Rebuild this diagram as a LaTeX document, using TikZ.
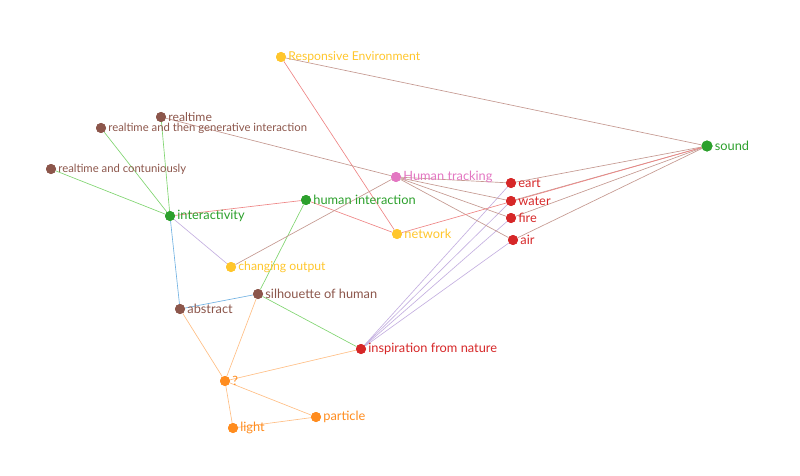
\documentclass[tikz,border=0pt]{standalone}
\usepackage{fontspec}
\setmainfont{Lato}
\definecolor{cbrown}{HTML}{8C564B}
\definecolor{cgreen}{HTML}{2CA02C}
\definecolor{cred}{HTML}{D62728}
\definecolor{corange}{HTML}{FF8C1E}
\definecolor{cpink}{HTML}{E377C2}
\definecolor{cyellow}{HTML}{FFC62C}
\definecolor{egreen}{HTML}{7FD46F}
\definecolor{ered}{HTML}{EE8585}
\definecolor{ebrown}{HTML}{C49890}
\definecolor{elav}{HTML}{C4B0E0}
\definecolor{eblue}{HTML}{72B2E2}
\definecolor{eorange}{HTML}{FFBE84}
\tikzset{
  dot/.style={circle, fill=#1, inner sep=0pt, minimum size=10pt},
  lbl/.style={anchor=west, inner sep=0pt, text=#1, font=\fontsize{12.8}{14}\selectfont},
  small/.style={font=\fontsize{11.3}{13}\selectfont},
  mid/.style={font=\fontsize{12.2}{14}\selectfont},
  edge/.style={draw=#1, line width=0.65pt},
}
\begin{document}
\begin{tikzpicture}[x=1pt,y=-1pt]
\useasboundingbox (0,0) rectangle (800,476);
% nodes (dots)
\node[dot=cyellow] (re) at (281,57) {};
\node[dot=cbrown] (rt) at (161,117) {};
\node[dot=cbrown] (rtg) at (101,128) {};
\node[dot=cbrown] (rtc) at (51,169) {};
\node[dot=cgreen] (int) at (170,216) {};
\node[dot=cgreen] (hi) at (306,200) {};
\node[dot=cpink] (ht) at (396,177) {};
\node[dot=cred] (ea) at (511,183) {};
\node[dot=cred] (wa) at (511,201) {};
\node[dot=cred] (fi) at (511,218) {};
\node[dot=cred] (ai) at (513,240) {};
\node[dot=cgreen, minimum size=11pt] (so) at (707,146) {};
\node[dot=cyellow] (nw) at (397,234) {};
\node[dot=cyellow] (co) at (231,267) {};
\node[dot=cbrown] (si) at (258,294) {};
\node[dot=cbrown] (ab) at (180,309) {};
\node[dot=cred] (in) at (361,349) {};
\node[dot=corange] (q) at (225,381) {};
\node[dot=corange] (pa) at (316,417) {};
\node[dot=corange] (li) at (233,428) {};
% edges
\path[edge=ebrown] (re) -- (so);
\path[edge=ered] (re) -- (nw);
\path[edge=egreen] (rt) -- (int);
\path[edge=egreen] (rtg) -- (int);
\path[edge=egreen] (rtc) -- (int);
\path[edge=ebrown] (rt) -- (ht);
\path[edge=ered] (int) -- (hi);
\path[edge=elav] (int) -- (co);
\path[edge=eblue] (int) -- (ab);
\path[edge=ered] (hi) -- (nw);
\path[edge=egreen] (hi) -- (si);
\path[edge=ebrown] (co) -- (ht);
\foreach \t in {ea,wa,fi,ai}{
  \path[edge=ebrown] (ht) -- (\t);
  \path[edge=ebrown] (\t) -- (so);
  \path[edge=elav] (in) -- (\t);
}
\path[edge=ered] (nw) -- (so);
\path[edge=eblue] (si) -- (ab);
\path[edge=egreen] (si) -- (in);
\path[edge=eorange] (si) -- (q);
\path[edge=eorange] (ab) -- (q);
\path[edge=eorange] (q) -- (in);
\path[edge=eorange] (q) -- (pa);
\path[edge=eorange] (q) -- (li);
\path[edge=eorange] (li) -- (pa);
% redraw dots on top
\foreach \n/\c in {re/cyellow,rt/cbrown,rtg/cbrown,rtc/cbrown,int/cgreen,hi/cgreen,ht/cpink,ea/cred,wa/cred,fi/cred,ai/cred,nw/cyellow,co/cyellow,si/cbrown,ab/cbrown,in/cred,q/corange,pa/corange,li/corange}{
  \fill[\c] (\n) circle (5pt);
}
\fill[cgreen] (so) circle (5.5pt);
% labels
\node[lbl=cyellow, mid] (re-t) at ([xshift=2pt]re.east) {Responsive Environment};
\node[lbl=cbrown, mid] (rt-t) at ([xshift=2pt]rt.east) {realtime};
\node[lbl=cbrown, small] (rtg-t) at ([xshift=2pt]rtg.east) {realtime and then generative interaction};
\node[lbl=cbrown, small] (rtc-t) at ([xshift=2pt]rtc.east) {realtime and contuniously};
\node[lbl=cgreen] (int-t) at ([xshift=2pt]int.east) {interactivity};
\node[lbl=cgreen] (hi-t) at ([xshift=2pt]hi.east) {human interaction};
\node[lbl=cpink] (ht-t) at ([xshift=2pt]ht.east) {Human tracking};
\node[lbl=cred] (ea-t) at ([xshift=2pt]ea.east) {eart};
\node[lbl=cred] (wa-t) at ([xshift=2pt]wa.east) {water};
\node[lbl=cred] (fi-t) at ([xshift=2pt]fi.east) {fire};
\node[lbl=cred] (ai-t) at ([xshift=2pt]ai.east) {air};
\node[lbl=cgreen] (so-t) at ([xshift=2pt]so.east) {sound};
\node[lbl=cyellow] (nw-t) at ([xshift=2pt]nw.east) {network};
\node[lbl=cyellow, mid] (co-t) at ([xshift=2pt]co.east) {changing output};
\node[lbl=cbrown] (si-t) at ([xshift=2pt]si.east) {silhouette of human};
\node[lbl=cbrown] (ab-t) at ([xshift=2pt]ab.east) {abstract};
\node[lbl=cred] (in-t) at ([xshift=2pt]in.east) {inspiration from nature};
\node[lbl=corange] (q-t) at ([xshift=2pt]q.east) {?};
\node[lbl=corange] (pa-t) at ([xshift=2pt]pa.east) {particle};
\node[lbl=corange] (li-t) at ([xshift=2pt]li.east) {light};
\end{tikzpicture}
\end{document}
